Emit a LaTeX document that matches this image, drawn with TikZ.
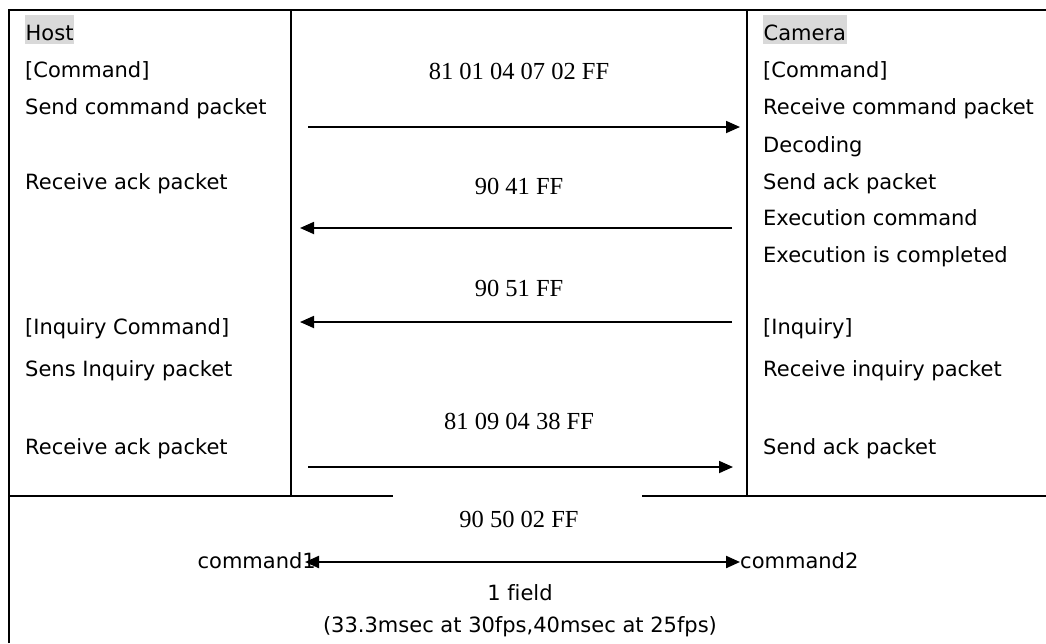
\documentclass[tikz,border=0pt]{standalone}
\usepackage{fontspec}
\setmainfont[Ligatures=NoCommon]{DejaVu Sans}
\newfontfamily\hexfont{Liberation Serif}
\usetikzlibrary{arrows.meta}
\tikzset{
  frame/.style={line width=2pt},
  lbl/.style={anchor=base west, inner sep=0pt, font=\fontsize{21}{25}\selectfont},
  hl/.style={lbl, fill=black!15, inner xsep=0.5pt, text height=25pt, text depth=4pt},
  hex/.style={anchor=base, inner sep=0pt, font=\hexfont\fontsize{24.5}{28}\selectfont},
  msg/.style={line width=1.8pt, -{Triangle[length=14pt,width=12pt]}},
  dbl/.style={line width=2.2pt, {Triangle[length=14pt,width=12pt]}-{Triangle[length=14pt,width=12pt]}},
  ctr/.style={anchor=base, inner sep=0pt, font=\fontsize{21}{25}\selectfont}
}
\begin{document}
\begin{tikzpicture}[x=1pt,y=-1pt]
\useasboundingbox (0,0) rectangle (1046,643);
% frame
\draw[frame] (9,643) -- (9,10) -- (1046,10);
\draw[frame] (291,10) -- (291,496);
\draw[frame] (747,10) -- (747,496);
\draw[frame] (9,496) -- (393,496);
\draw[frame] (642,496) -- (1046,496);
% host column
\node[hl] (host) at (25,40) {Host};
\node[lbl] (hc) at (25,77) {[Command]};
\node[lbl] (hs) at (25,114) {Send command packet};
\node[lbl] (hr) at (25,189) {Receive ack packet};
\node[lbl] (hi) at (25,334) {[Inquiry Command]};
\node[lbl] (hsi) at (25,376) {Sens Inquiry packet};
\node[lbl] (hr2) at (25,454) {Receive ack packet};
% camera column
\node[hl] (cam) at (763,40) {Camera};
\node[lbl] (cc) at (763,77) {[Command]};
\node[lbl] (cr) at (763,114) {Receive command packet};
\node[lbl] (cd) at (763,152) {Decoding};
\node[lbl] (cs) at (763,189) {Send ack packet};
\node[lbl] (ce) at (763,225) {Execution command};
\node[lbl] (cec) at (763,262) {Execution is completed};
\node[lbl] (ci) at (763,334) {[Inquiry]};
\node[lbl] (cri) at (763,376) {Receive inquiry packet};
\node[lbl] (cs2) at (763,454) {Send ack packet};
% hex labels
\node[hex] (m1) at (519,79) {81 01 04 07 02 FF};
\node[hex] (m2) at (519,194) {90 41 FF};
\node[hex] (m3) at (519,296) {90 51 FF};
\node[hex] (m4) at (519,429) {81 09 04 38 FF};
\node[hex] (m5) at (519,527) {90 50 02 FF};
% arrows
\coordinate (a1s) at (308,127); \coordinate (a1e) at (740,127);
\coordinate (a2s) at (732,228); \coordinate (a2e) at (300,228);
\coordinate (a3s) at (732,322); \coordinate (a3e) at (300,322);
\coordinate (a4s) at (308,467); \coordinate (a4e) at (733,467);
\draw[msg] (a1s) -- (a1e);
\draw[msg] (a2s) -- (a2e);
\draw[msg] (a3s) -- (a3e);
\draw[msg] (a4s) -- (a4e);
% bottom
\node[lbl, anchor=base east] (c1) at (316,568) {command1};
\node[lbl] (c2) at (740,568) {command2};
\coordinate (b1) at (305,562);
\coordinate (b2) at (740,562);
\draw[dbl] (b1) -- (b2);
\node[ctr] (f1) at (520,600) {1 field};
\node[ctr] (f2) at (520,632) {(33.3msec at 30fps,40msec at 25fps)};
\end{tikzpicture}
\end{document}
